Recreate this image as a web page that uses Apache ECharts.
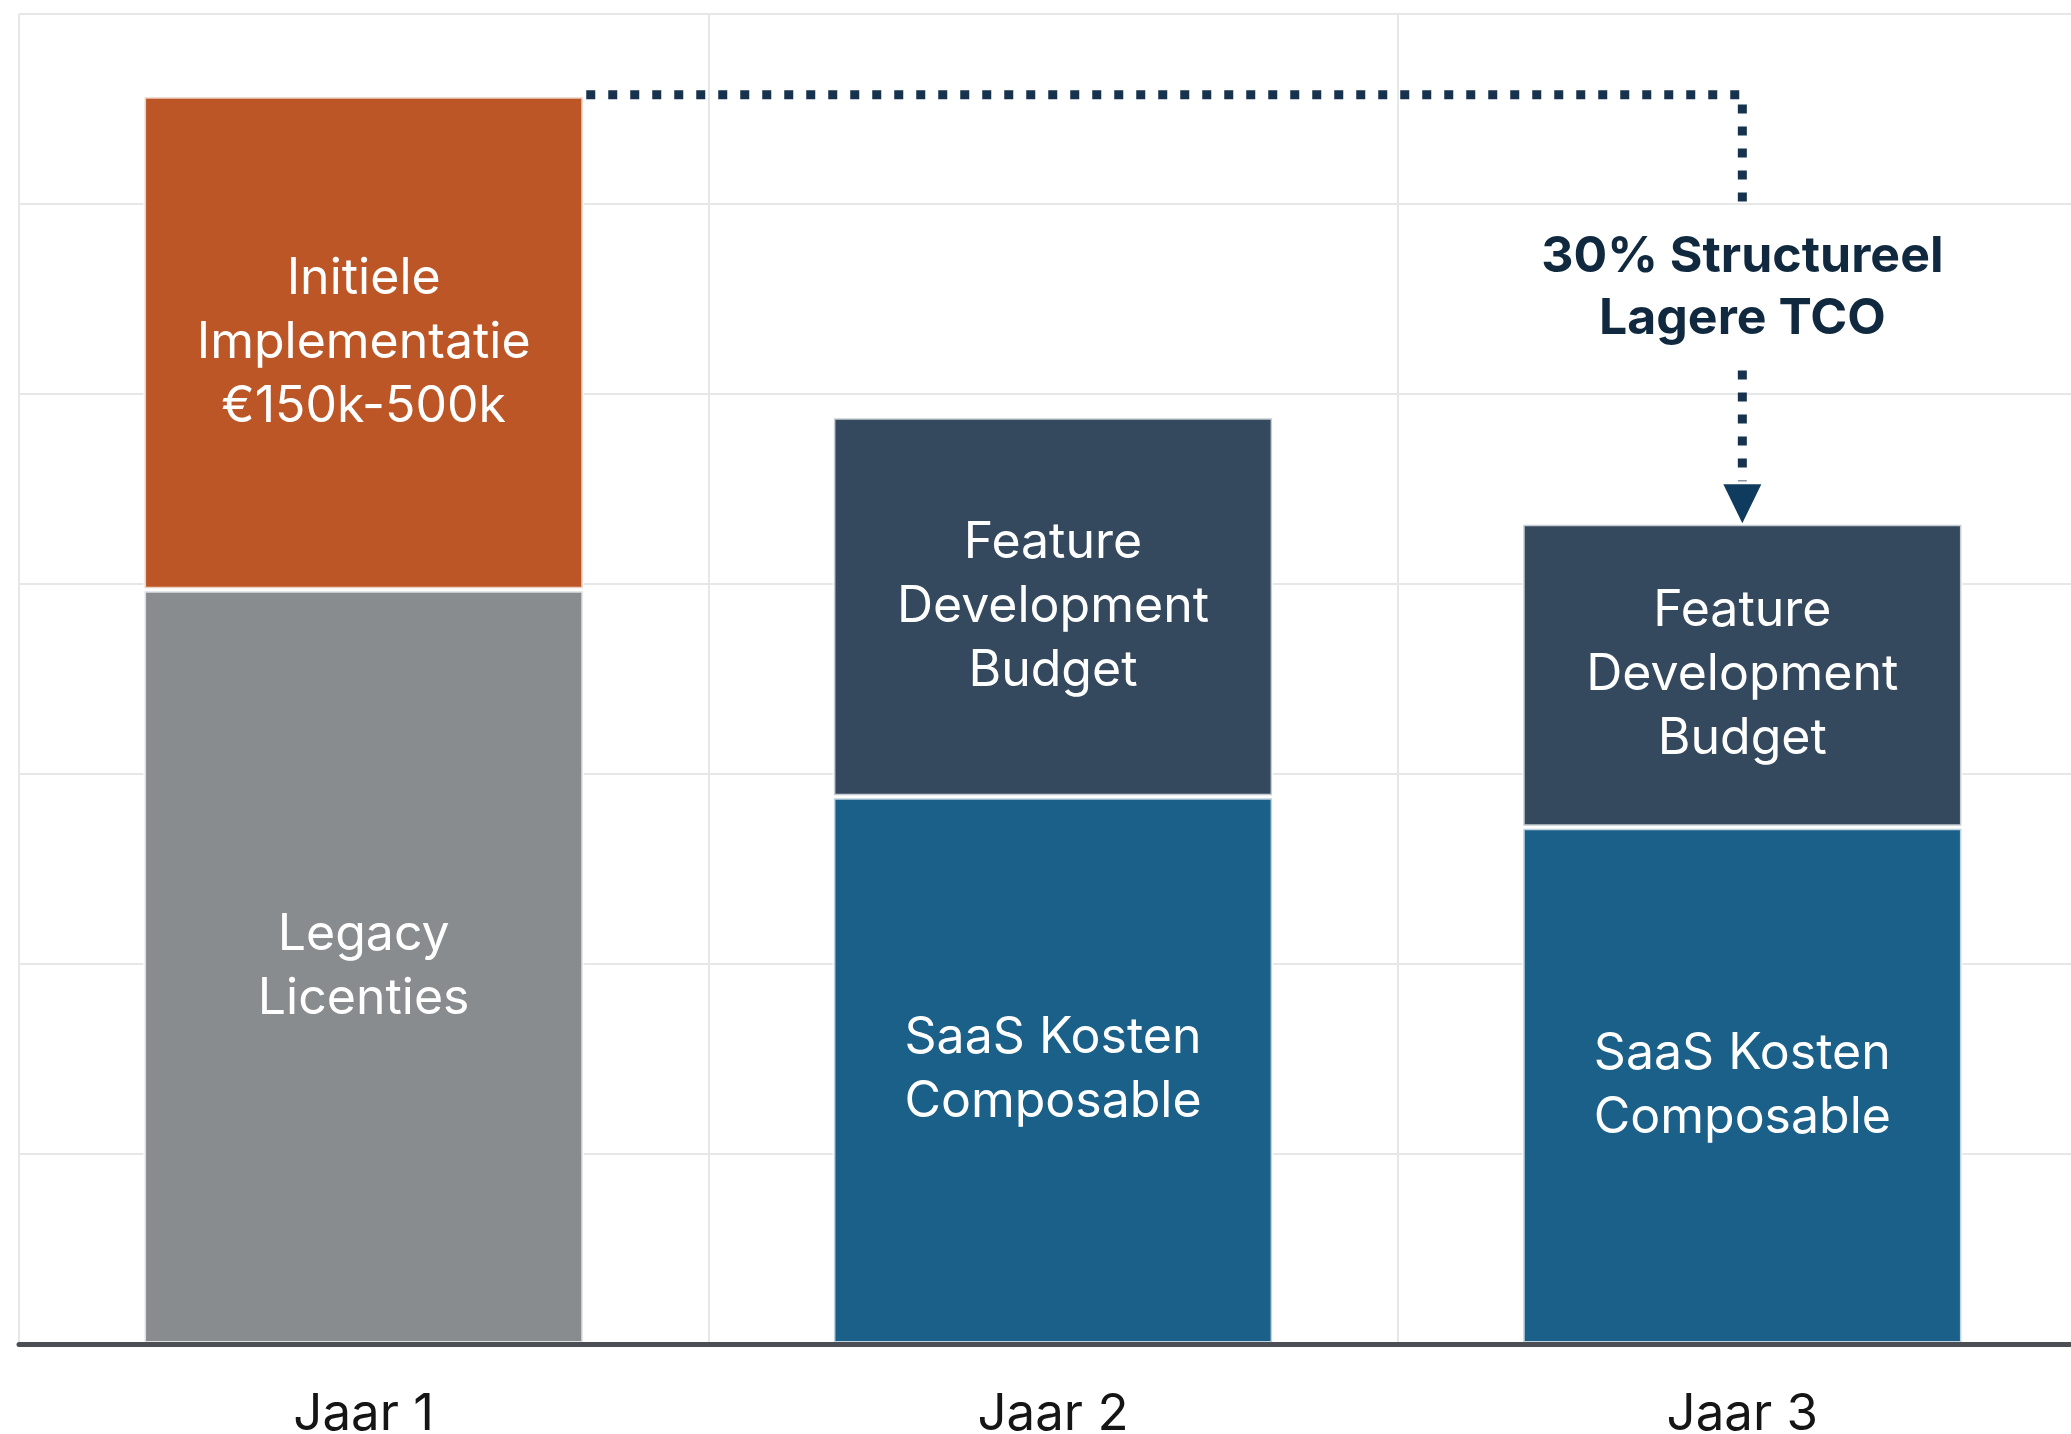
<!DOCTYPE html>
<html lang="nl">
    <head>
        <meta charset="UTF-8" />
        <title>TCO vergelijking</title>
        <style>
            * {
                box-sizing: border-box;
                margin: 0;
                padding: 0;
            }
            body {
                background: #fff;
            }
            #chart {
                width: 2071px;
                height: 1434px;
            }
        </style>
    </head>
    <body>
        <div id="chart"></div>
        <script src="https://cdn.jsdelivr.net/npm/echarts@6/dist/echarts.min.js"></script>
        <script>
            // categorieen (x-as)
            var categories = ['Jaar 1', 'Jaar 2', 'Jaar 3']
            var legacyLicenties = [397, '-', '-']
            var initieleImplementatie = [260, '-', '-']
            var saasKosten = ['-', 288, 272]
            var featureBudget = ['-', 200, 160]
            // y-as: 0 - 700, lijn elke 100 (geen labels zichtbaar)
            var yMin = 0
            var yMax = 700
            var yStep = 100
            // teksten in de balken
            var labelLegacy = 'Legacy\nLicenties'
            var labelInitiele = 'Initiele\nImplementatie\n€150k-500k'
            var labelSaas = 'SaaS Kosten\nComposable'
            var labelFeature = 'Feature\nDevelopment\nBudget'
            var annotationText = '30% Structureel\nLagere TCO'

            var FONT = 'Inter, Roboto, sans-serif'
            var BAR_WIDTH = 0.64

            var totalJaar1 = legacyLicenties[0] + initieleImplementatie[0]
            var totalJaar3 = saasKosten[2] + featureBudget[2]

            var chart = echarts.init(document.getElementById('chart'))

            function segment(name, data, color, text) {
                return {
                    name: name,
                    type: 'bar',
                    stack: 'tco',
                    barWidth: BAR_WIDTH * 100 + '%',
                    data: data,
                    animation: false,
                    itemStyle: {
                        color: color,
                        borderColor: 'rgba(255,255,255,0.72)',
                        borderWidth: 3
                    },
                    label: {
                        show: true,
                        position: 'inside',
                        formatter: function () {
                            return text
                        },
                        color: '#fff',
                        fontFamily: FONT,
                        fontSize: 50,
                        lineHeight: 64
                    }
                }
            }

            // gestippelde verbinding + pijl + tekst
            function renderConnector(params, api) {
                var start = api.coord([api.value(0), api.value(1)])
                var end = api.coord([api.value(2), api.value(3)])
                var halfBar = (api.size([1, 0])[0] * BAR_WIDTH) / 2
                var x0 = start[0] + halfBar + 2
                var y0 = start[1] - 1
                var x1 = end[0]
                var tipY = end[1]
                var arrowH = 39
                var arrowW = 38
                var textY = y0 + (tipY - y0) * 0.45
                var gap = 83
                var dotted = {
                    stroke: '#17324d',
                    lineWidth: 9,
                    lineDash: [9, 13],
                    fill: null
                }
                return {
                    type: 'group',
                    children: [
                        {
                            type: 'polyline',
                            shape: { points: [[x0, y0], [x1, y0], [x1, textY - gap]] },
                            style: dotted
                        },
                        {
                            type: 'polyline',
                            shape: { points: [[x1, textY + gap], [x1, tipY - arrowH - 3]] },
                            style: dotted
                        },
                        {
                            type: 'polygon',
                            shape: {
                                points: [
                                    [x1 - arrowW / 2, tipY - arrowH],
                                    [x1 + arrowW / 2, tipY - arrowH],
                                    [x1, tipY]
                                ]
                            },
                            style: { fill: '#0f3b5f' }
                        },
                        {
                            type: 'text',
                            x: x1,
                            y: textY,
                            style: {
                                text: annotationText,
                                fill: '#10293f',
                                font: 'bold 50px ' + FONT,
                                lineHeight: 62,
                                align: 'center',
                                verticalAlign: 'middle'
                            }
                        }
                    ]
                }
            }

            chart.setOption({
                backgroundColor: '#fff',
                grid: {
                    left: 19,
                    right: -16,
                    top: 14,
                    bottom: 90,
                    outerBoundsMode: 'none'
                },
                xAxis: {
                    type: 'category',
                    data: categories,
                    z: 5,
                    axisLine: {
                        lineStyle: { color: '#4b4f54', width: 5 }
                    },
                    axisTick: { show: false },
                    axisLabel: {
                        color: '#151515',
                        fontFamily: FONT,
                        fontSize: 51,
                        margin: 45
                    },
                    splitLine: {
                        show: true,
                        interval: 0,
                        lineStyle: { color: '#e6e7e8', width: 2 }
                    }
                },
                yAxis: {
                    type: 'value',
                    min: yMin,
                    max: yMax,
                    interval: yStep,
                    axisLine: { show: false },
                    axisTick: { show: false },
                    axisLabel: { show: false },
                    splitLine: {
                        lineStyle: { color: '#e6e7e8', width: 2 }
                    }
                },
                series: [
                    segment('Legacy Licenties', legacyLicenties, '#898c8f', labelLegacy),
                    segment('Initiele Implementatie', initieleImplementatie, '#bc5627', labelInitiele),
                    segment('SaaS Kosten Composable', saasKosten, '#1b6089', labelSaas),
                    segment('Feature Development Budget', featureBudget, '#34495e', labelFeature),
                    {
                        type: 'custom',
                        animation: false,
                        z: 6,
                        encode: { x: [0, 2], y: [1, 3] },
                        data: [[0, totalJaar1, 2, totalJaar3]],
                        renderItem: renderConnector
                    }
                ]
            })
        </script>
    </body>
</html>
